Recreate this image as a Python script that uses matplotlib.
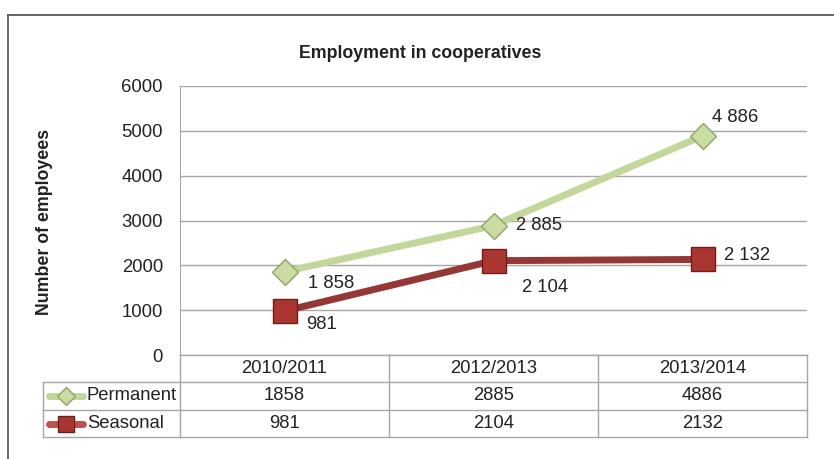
import matplotlib
matplotlib.use("Agg")
import matplotlib.pyplot as plt
from matplotlib.lines import Line2D
import matplotlib.transforms as mtransforms

plt.rcParams['font.family'] = ['Liberation Sans', 'DejaVu Sans']

categories = ["2010/2011", "2012/2013", "2013/2014"]
permanent = [1858, 2885, 4886]
seasonal = [981, 2104, 2132]
perm_labels = ["1 858", "2 885", "4 886"]
seas_labels = ["981", "2 104", "2 132"]
yticks = [0, 1000, 2000, 3000, 4000, 5000, 6000]

W, H = 834, 459
FS = 13.3
fig = plt.figure(figsize=(W / 100, H / 100), dpi=100)

def px(x0, y0, x1, y1):
    return [x0 / W, 1 - y1 / H, (x1 - x0) / W, (y1 - y0) / H]

ax = fig.add_axes(px(180, 86, 807, 355))
x = list(range(len(categories)))
ax.set_xlim(-0.5, len(categories) - 0.5)
ax.set_ylim(0, 6000)
ax.set_yticks(yticks)
ax.set_yticklabels([str(v) for v in yticks], fontsize=FS, color='#222222')
ax.tick_params(axis='y', length=0, pad=12.3)
ax.set_xticks([])
for s in ['top', 'right', 'bottom']:
    ax.spines[s].set_visible(False)
ax.spines['left'].set_color('#a6a6a6')
ax.grid(axis='y', color='#a6a6a6', linewidth=1.0)
ax.set_axisbelow(True)

green = '#c3d69b'
red = '#953735'
ax.plot(x, permanent, color=green, linewidth=5, marker='D', markersize=13.5,
        markerfacecolor='#c9dca3', markeredgecolor='#8fa36a', markeredgewidth=1.0,
        zorder=3, solid_capstyle='round')
ax.plot(x, seasonal, color=red, linewidth=5, marker='s', markersize=17.5,
        markerfacecolor='#a93631', markeredgecolor='#6e1d1b', markeredgewidth=1.0,
        zorder=3)

perm_off = [(23, -12), (22, 0), (10, 18)]
seas_off = [(22, -13), (28, -27), (22, 4)]
for i in x:
    ax.annotate(perm_labels[i], (i, permanent[i]), xytext=perm_off[i],
                textcoords='offset pixels', ha='left', va='center', fontsize=FS,
                color='#222222')
    ax.annotate(seas_labels[i], (i, seasonal[i]), xytext=seas_off[i],
                textcoords='offset pixels', ha='left', va='center', fontsize=FS,
                color='#222222')

# Data table below the axes
ax_h = 355 - 86
def ay(ypix):
    return (355 - ypix) / ax_h

blend = mtransforms.blended_transform_factory(ax.transData, ax.transAxes)
figpx_x = mtransforms.blended_transform_factory(fig.transFigure, ax.transAxes)
lc = '#a6a6a6'
rows_y = [355, 382, 410, 437]
xl, xr = -0.5, len(categories) - 0.5
for yy in rows_y:
    ax.add_line(Line2D([xl, xr], [ay(yy), ay(yy)], transform=blend, color=lc,
                       linewidth=1.0, clip_on=False))
for yy in rows_y[1:]:
    ax.add_line(Line2D([43 / W, 180 / W], [ay(yy), ay(yy)], transform=figpx_x,
                       color=lc, linewidth=1.0, clip_on=False))
ax.add_line(Line2D([43 / W, 43 / W], [ay(382), ay(437)], transform=figpx_x,
                   color=lc, linewidth=1.0, clip_on=False))
for b in [xl + k for k in range(len(categories) + 1)]:
    ax.add_line(Line2D([b, b], [ay(355), ay(437)], transform=blend, color=lc,
                       linewidth=1.0, clip_on=False))

for i, c in enumerate(categories):
    ax.text(i, ay(368.5), c, transform=blend, ha='center', va='center',
            fontsize=FS, color='#222222')
    ax.text(i, ay(396), str(permanent[i]), transform=blend, ha='center',
            va='center', fontsize=FS, color='#222222')
    ax.text(i, ay(423.5), str(seasonal[i]), transform=blend, ha='center',
            va='center', fontsize=FS, color='#222222')

for yy, col, mk, ms, fc, ec, name in [
        (396, green, 'D', 9, '#c9dca3', '#8fa36a', 'Permanent'),
        (423.5, '#c0504d', 's', 12, '#a93631', '#6e1d1b', 'Seasonal')]:
    ax.add_line(Line2D([49 / W, 83 / W], [ay(yy), ay(yy)], transform=figpx_x,
                       color=col, linewidth=5, solid_capstyle='round',
                       clip_on=False))
    ax.add_line(Line2D([66 / W], [ay(yy)], transform=figpx_x, marker=mk,
                       markersize=ms, markerfacecolor=fc, markeredgecolor=ec,
                       linestyle='none', clip_on=False))
    ax.text(87 / W, ay(yy), name, transform=figpx_x, ha='left', va='center',
            fontsize=FS, color='#222222')

fig.text(420 / W, 1 - 53 / H, "Employment in cooperatives", ha='center',
         va='center', fontsize=12.8, fontweight='bold', color='#222222')
fig.text(45 / W, 1 - 222 / H, "Number of employees", ha='center', va='center',
         rotation=90, fontsize=12.8, fontweight='bold', color='#222222')

fig.add_artist(Line2D([8 / W, 1], [1 - 15 / H, 1 - 15 / H], color='#5a5a5a',
                      linewidth=1.3))
fig.add_artist(Line2D([8 / W, 8 / W], [0, 1 - 15 / H], color='#5a5a5a',
                      linewidth=1.3))

fig.savefig("out.png", dpi=100)
